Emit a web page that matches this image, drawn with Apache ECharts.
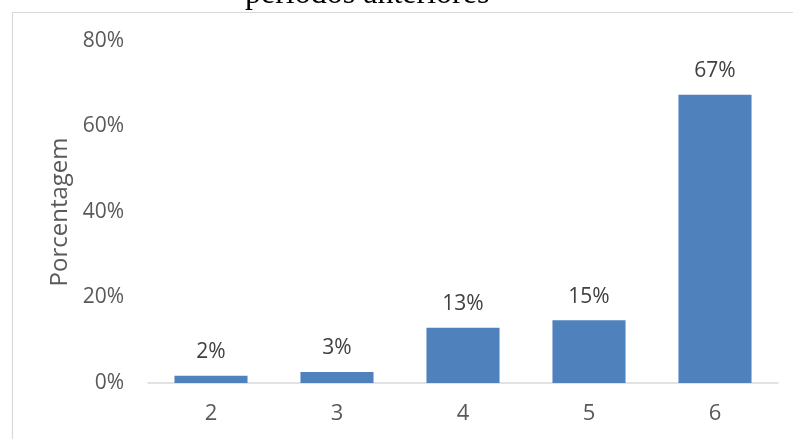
<!DOCTYPE html>
<html>
<head>
<meta charset="utf-8">
<script src="https://cdn.jsdelivr.net/npm/echarts@6/dist/echarts.min.js"></script>
<style>html,body{margin:0;padding:0;background:#fff}#c{width:793px;height:439px}</style>
</head>
<body>
<div id="c"></div>
<script>
const categories = ['2', '3', '4', '5', '6'];
const values = [1.7, 2.6, 12.9, 14.7, 67.4];
const yTicks = [0, 20, 40, 60, 80];
const titleText = 'períodos anteriores';
const yAxisName = 'Porcentagem';

const sans = '"Open Sans", sans-serif';
const chart = echarts.init(document.getElementById('c'));
chart.setOption({
  animation: false,
  graphic: [{
    type: 'rect', left: 10, top: 10, z: -1,
    shape: { width: 800, height: 440 },
    style: { fill: 'none', stroke: '#d9d9d9', lineWidth: 1.2 }
  }],
  title: {
    text: titleText, left: 240, top: -26,
    textStyle: { fontFamily: '"Liberation Serif", serif', fontWeight: 'normal', fontSize: 32, color: '#000' }
  },
  grid: { left: 148, right: 15, top: 41, bottom: 56 },
  xAxis: {
    type: 'category', data: categories,
    axisLine: { lineStyle: { color: '#d9d9d9', width: 1.5 } },
    axisTick: { show: false },
    axisLabel: { color: '#595959', fontSize: 22, fontFamily: sans, margin: 20 }
  },
  yAxis: {
    type: 'value', min: yTicks[0], max: yTicks[yTicks.length - 1], interval: 20,
    name: yAxisName, nameLocation: 'middle', nameGap: 67, nameRotate: 90,
    nameTextStyle: { color: '#595959', fontSize: 24, fontFamily: sans },
    axisLine: { show: false }, axisTick: { show: false }, splitLine: { show: false },
    axisLabel: { color: '#595959', fontSize: 21, fontFamily: sans, margin: 24, formatter: v => v + '%' }
  },
  series: [{
    type: 'bar', data: values, barCategoryGap: '42%',
    itemStyle: { color: '#4f81bd' },
    label: {
      show: true, position: 'top', distance: 13, color: '#404040', fontSize: 21, fontFamily: sans,
      formatter: p => Math.round(p.value) + '%'
    }
  }]
});
</script>
</body>
</html>
